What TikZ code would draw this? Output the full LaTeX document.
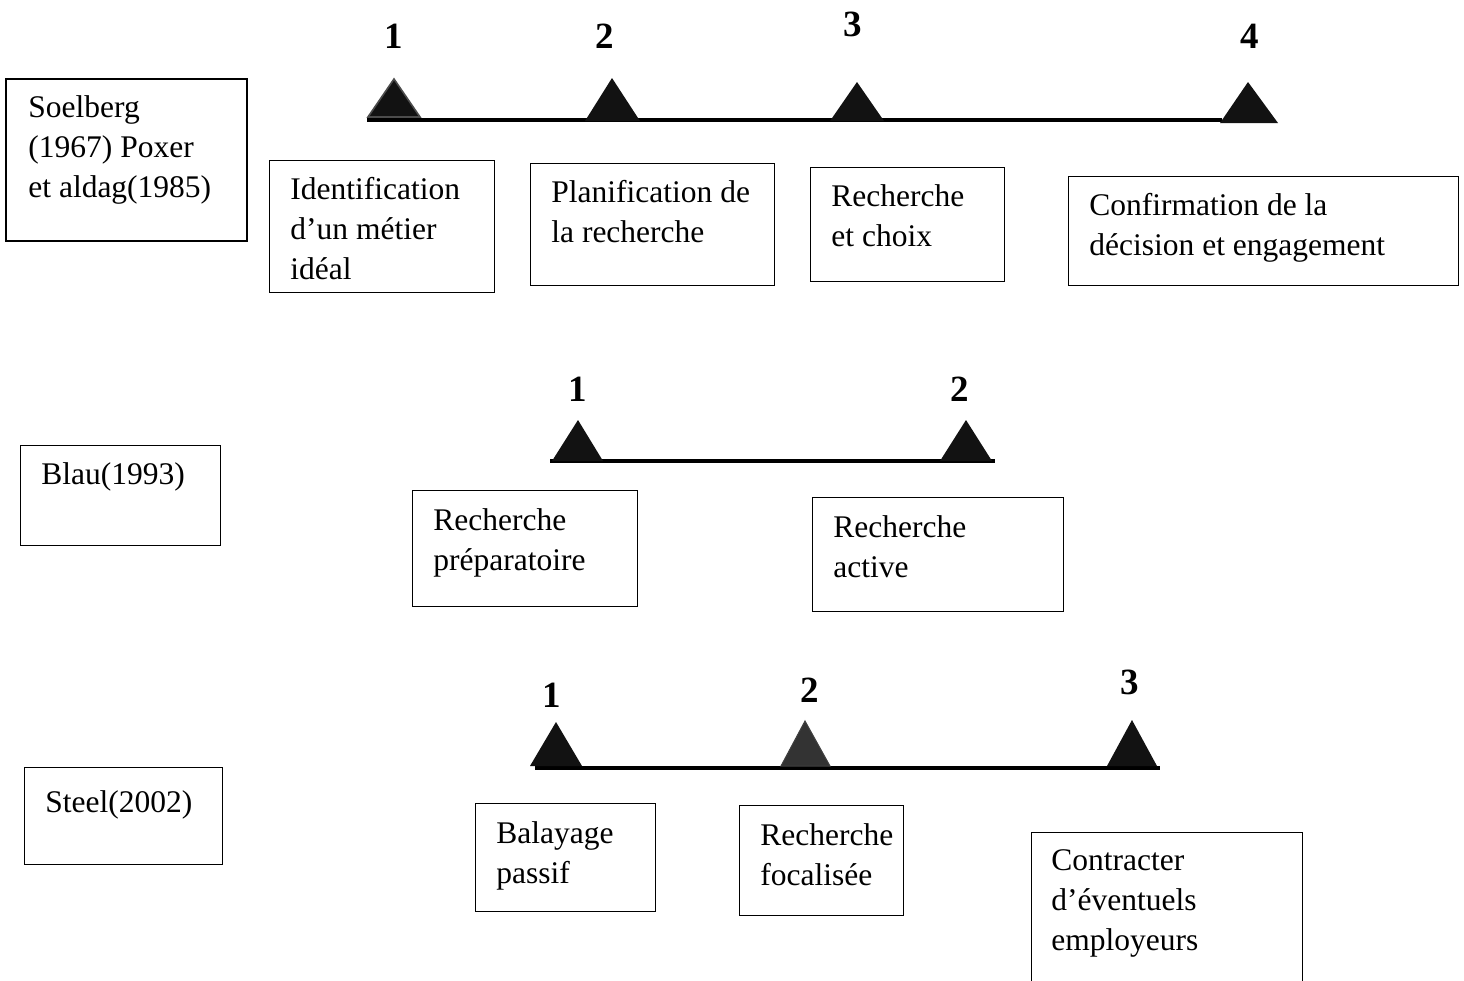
\documentclass[tikz,border=0pt]{standalone}
\usepackage{fontspec}
\setmainfont{Liberation Serif}
\begin{document}
\begin{tikzpicture}[x=0.5pt,y=-0.5pt,
  box/.style={draw, line width=0.65pt, anchor=north west, inner sep=0pt},
  txt/.style={anchor=north west, align=left, inner sep=0pt, font=\fontsize{15.75}{20}\selectfont},
  num/.style={inner sep=0pt, font=\fontsize{18.5}{20}\selectfont\bfseries},
  tri/.style={fill=black!93},
  tline/.style={line width=1.75pt}]
\useasboundingbox (0,0) rectangle (1464,981);
\clip (0,0) rectangle (1464,981);
\fill[white] (0,0) rectangle (1464,981);

% ---------- Row 1: Soelberg ----------
\node[box, line width=1.2pt, minimum width=120.5pt, minimum height=81pt] (bS) at (5,78) {};
\node[txt] (tS) at (28,95) {Soelberg\\(1967) Poxer\\et aldag(1985)};

\node[num] (n11) at (394,36) {1};
\node[num] (n12) at (605,36) {2};
\node[num] (n13) at (853,24) {3};
\node[num] (n14) at (1250,36) {4};

\draw[tline] (367,120) -- (1222,120);
\filldraw[fill=black!93, draw=black!70, line width=0.8pt] (368,117) -- (394,79) -- (420,117) -- cycle;
\fill[tri] (585,121) -- (612,78) -- (640,121) -- cycle;
\fill[tri] (830,121) -- (857,82) -- (884,121) -- cycle;
\fill[tri] (1220,123) -- (1248,82) -- (1278,123) -- cycle;

\node[box, minimum width=112.5pt, minimum height=66pt] (bI) at (269,160) {};
\node[txt] (tI) at (290,177) {Identification\\d’un métier\\idéal};
\node[box, minimum width=122pt, minimum height=61pt] (bP) at (530,163) {};
\node[txt] (tP) at (551,180) {Planification de\\la recherche};
\node[box, minimum width=97pt, minimum height=57pt] (bR) at (810,167) {};
\node[txt] (tR) at (831,184) {Recherche\\et choix};
\node[box, minimum width=195pt, minimum height=54.5pt] (bC) at (1068,176) {};
\node[txt] (tC) at (1089,193) {Confirmation de la\\décision et engagement};

% ---------- Row 2: Blau ----------
\node[box, minimum width=100pt, minimum height=50pt] (bB) at (20,445) {};
\node[txt] (tB) at (41,462) {Blau(1993)};

\node[num] (n21) at (578,389) {1};
\node[num] (n22) at (960,389) {2};

\draw[tline] (550,461) -- (995,461);
\fill[tri] (552,461) -- (578,420) -- (603,461) -- cycle;
\fill[tri] (940,461) -- (966,420) -- (992,461) -- cycle;

\node[box, minimum width=112.5pt, minimum height=58pt] (bRp) at (412,490) {};
\node[txt] (tRp) at (433,508) {Recherche\\préparatoire};
\node[box, minimum width=125.5pt, minimum height=57pt] (bRa) at (812,497) {};
\node[txt] (tRa) at (833,515) {Recherche\\active};

% ---------- Row 3: Steel ----------
\node[box, minimum width=99pt, minimum height=48.5pt] (bSt) at (24,767) {};
\node[txt] (tSt) at (45,790) {Steel(2002)};

\node[num] (n31) at (552,695) {1};
\node[num] (n32) at (810,690) {2};
\node[num] (n33) at (1130,682) {3};

\draw[tline] (535,768) -- (1160,768);
\fill[tri] (530,766) -- (556,722) -- (582,766) -- cycle;
\filldraw[fill=black!80, draw=black!75, line width=0.5pt] (781,766) -- (805,721) -- (830,766) -- cycle;
\fill[tri] (1107,766) -- (1132,720) -- (1157,766) -- cycle;

\node[box, minimum width=90pt, minimum height=54pt] (bBal) at (475,803) {};
\node[txt] (tBal) at (496,821) {Balayage\\passif};
\node[box, minimum width=82pt, minimum height=55pt] (bRf) at (739,805) {};
\node[txt] (tRf) at (760,823) {Recherche\\focalisée};
\node[box, minimum width=135.5pt, minimum height=80pt] (bCo) at (1031,832) {};
\node[txt] (tCo) at (1051,849) {Contracter\\d’éventuels\\employeurs};
\end{tikzpicture}
\end{document}
